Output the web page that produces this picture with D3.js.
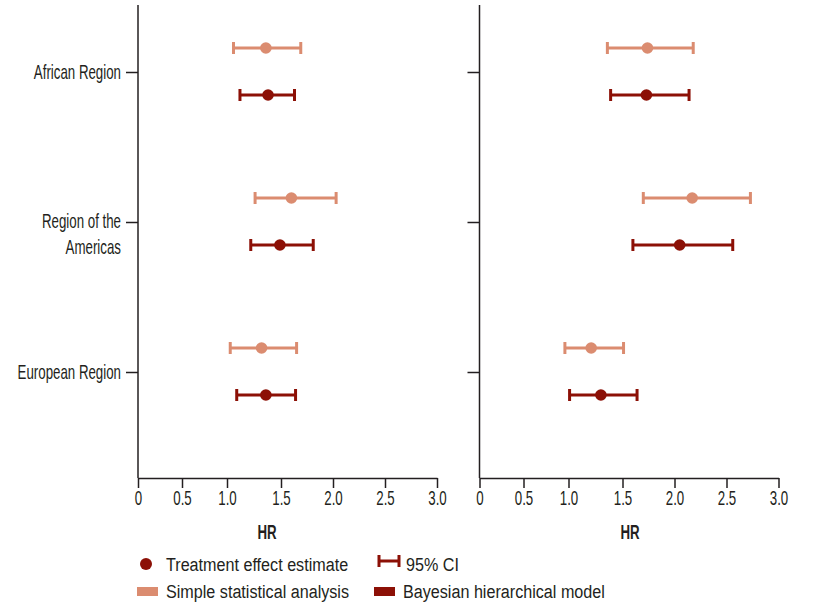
<!DOCTYPE html>
<html>
<head>
<meta charset="utf-8">
<script src="https://cdn.jsdelivr.net/npm/d3@7"></script>
<style>
    body { margin: 0; background: #fff; }
    text { font-family: "Liberation Sans", Arial, sans-serif; fill: #231f20; }
</style>
</head>
<body>
<div id="target-div"></div>
<script>
const w = 815
const h = 609

// categories and tick labels
var regions = ['African Region', 'Region of the Americas', 'European Region']
var methods = ['Simple statistical analysis', 'Bayesian hierarchical model']
var xTicks = [0, 0.5, 1, 1.5, 2, 2.5, 3]

// left panel
var leftSimpleEst = [1.36, 1.60, 1.32]
var leftSimpleLo = [1.06, 1.26, 1.03]
var leftSimpleHi = [1.69, 2.03, 1.65]
var leftBayesEst = [1.38, 1.49, 1.36]
var leftBayesLo = [1.12, 1.22, 1.09]
var leftBayesHi = [1.63, 1.81, 1.64]

// right panel
var rightSimpleEst = [1.74, 2.17, 1.21]
var rightSimpleLo = [1.36, 1.70, 0.96]
var rightSimpleHi = [2.18, 2.73, 1.51]
var rightBayesEst = [1.73, 2.05, 1.30]
var rightBayesLo = [1.39, 1.60, 1.01]
var rightBayesHi = [2.14, 2.56, 1.64]

const colors = ['#db8c70', '#8c1006']
const plotTop = 5
const plotBottom = 478
// the printed axis is not evenly spaced, so the scale follows the tick marks
const tickPx = [0, 44, 89, 143, 195, 247, 299]
// no condensed font installed, squeeze a normal one instead
const narrow = 0.665
const legendNarrow = 0.85

let svg = d3.select('#target-div')
    .append('svg')
    .attr('width', w)
    .attr('height', h)

function addText(parent, x, y, str, sx, size){
    return parent.append('text')
        .attr('transform', 'translate(' + x + ',' + y + ') scale(' + sx + ',1)')
        .attr('font-size', size + 'px')
        .text(str)
}

let yScale = d3.scalePoint()
    .domain(regions)
    .range([-3, 447])
    .padding(0.5)

let subScale = d3.scalePoint()
    .domain(methods)
    .range([-24, 23])

function drawPanel(left, simple, bayes, showLabels){
    let xScale = d3.scaleLinear()
        .domain(xTicks)
        .range(tickPx.map(function(p){ return left + p }))

    let g = svg.append('g')

    // y axis
    let yAxis = g.append('g')
        .attr('transform', 'translate(' + left + ',0)')
        .call(d3.axisLeft(yScale).tickSize(12).tickFormat(''))
    yAxis.select('.domain').remove()
    yAxis.selectAll('line').attr('stroke', '#231f20').attr('stroke-width', 1.5)

    g.append('line')
        .attr('x1', left).attr('x2', left)
        .attr('y1', plotTop).attr('y2', plotBottom)
        .attr('stroke', '#231f20')
        .attr('stroke-width', 1.5)

    if(showLabels){
        regions.forEach(function(r){
            if(r === 'Region of the Americas'){
                addText(g, left - 17, yScale(r) + 6, 'Region of the', narrow, 20).attr('text-anchor', 'end')
                addText(g, left - 17, yScale(r) + 32, 'Americas', narrow, 20).attr('text-anchor', 'end')
            } else {
                addText(g, left - 17, yScale(r) + 7, r, narrow, 20).attr('text-anchor', 'end')
            }
        })
    }

    // x axis
    let xAxis = g.append('g')
        .attr('transform', 'translate(0,' + plotBottom + ')')
        .call(d3.axisBottom(xScale)
            .tickValues(xTicks)
            .tickSize(10)
            .tickSizeOuter(0)
            .tickPadding(3)
            .tickFormat(function(d){
                return d === 0 ? '0' : d3.format('.1f')(d)
            }))
    xAxis.select('.domain').attr('stroke', '#231f20').attr('stroke-width', 1.5)
    xAxis.selectAll('line').attr('stroke', '#231f20').attr('stroke-width', 1.5)
    xAxis.selectAll('text')
        .attr('font-size', '20px')
        .attr('font-family', '"Liberation Sans", Arial, sans-serif')
        .attr('fill', '#231f20')
        .attr('transform', 'scale(' + narrow + ',1)')

    // error bars and estimates
    let sets = [simple, bayes]
    sets.forEach(function(s, m){
        let col = colors[m]
        let off = subScale(methods[m])
        regions.forEach(function(r, i){
            let y = yScale(r) + off
            g.append('line')
                .attr('x1', xScale(s.lo[i])).attr('x2', xScale(s.hi[i]))
                .attr('y1', y).attr('y2', y)
                .attr('stroke', col).attr('stroke-width', 3)
            g.selectAll(null)
                .data([s.lo[i], s.hi[i]])
                .enter()
                .append('line')
                .attr('x1', function(d){ return xScale(d) })
                .attr('x2', function(d){ return xScale(d) })
                .attr('y1', y - 6).attr('y2', y + 6)
                .attr('stroke', col).attr('stroke-width', 3)
            g.append('circle')
                .attr('cx', xScale(s.est[i]))
                .attr('cy', y)
                .attr('r', 5.8)
                .attr('fill', col)
        })
    })

    return xScale
}

drawPanel(138, {est: leftSimpleEst, lo: leftSimpleLo, hi: leftSimpleHi},
    {est: leftBayesEst, lo: leftBayesLo, hi: leftBayesHi}, true)
drawPanel(479.5, {est: rightSimpleEst, lo: rightSimpleLo, hi: rightSimpleHi},
    {est: rightBayesEst, lo: rightBayesLo, hi: rightBayesHi}, false)

addText(svg, 267, 539, 'HR', narrow, 20).attr('text-anchor', 'middle').attr('font-weight', 'bold')
addText(svg, 630, 539, 'HR', narrow, 20).attr('text-anchor', 'middle').attr('font-weight', 'bold')

// legend
let lg = svg.append('g')
lg.append('circle').attr('cx', 146).attr('cy', 564).attr('r', 6).attr('fill', colors[1])
addText(lg, 166, 571, 'Treatment effect estimate', legendNarrow, 19)
lg.append('path')
    .attr('d', 'M379,555V567M379,561H399M399,555V567')
    .attr('stroke', colors[1]).attr('stroke-width', 3).attr('fill', 'none')
addText(lg, 406, 571, '95% CI', legendNarrow, 19)

lg.selectAll('rect')
    .data(methods)
    .enter()
    .append('rect')
    .attr('x', function(d, i){ return i === 0 ? 137 : 374 })
    .attr('y', 587)
    .attr('width', 21)
    .attr('height', 9)
    .attr('fill', function(d, i){ return colors[i] })
methods.forEach(function(d, i){
    addText(lg, i === 0 ? 166 : 403, 598, d, legendNarrow, 19)
})
</script>
</body>
</html>
